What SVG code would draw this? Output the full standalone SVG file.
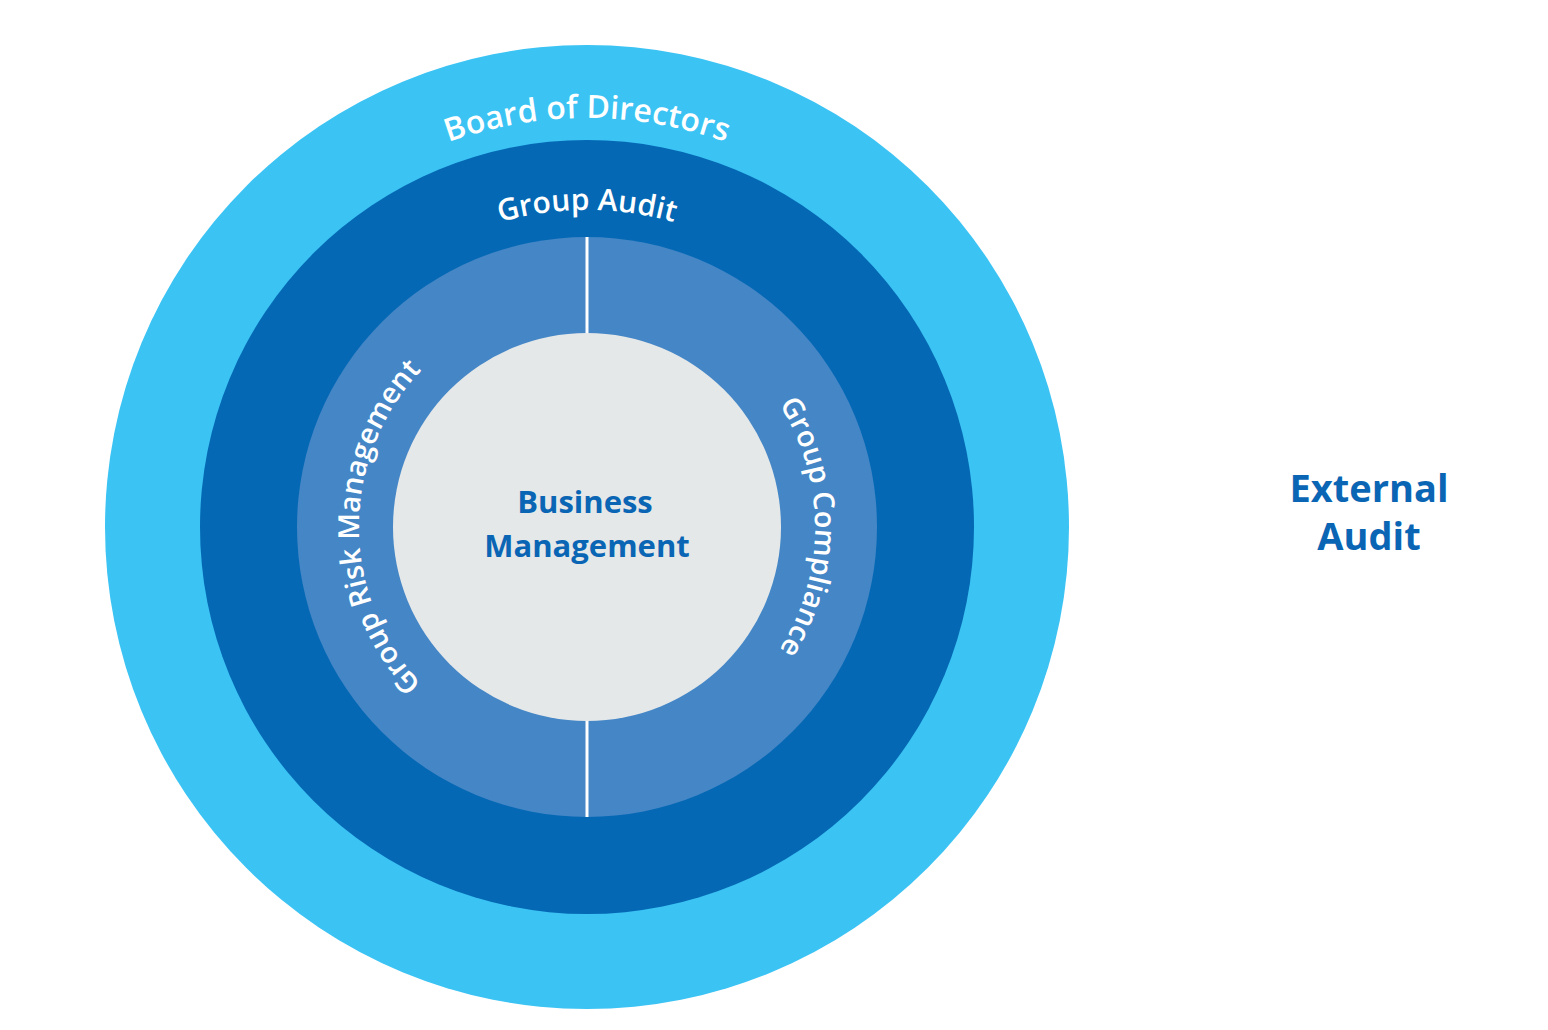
<svg xmlns="http://www.w3.org/2000/svg" width="1548" height="1030" viewBox="0 0 1548 1030">
<style>
.w{fill:#fff;font-family:"Open Sans","Liberation Sans",sans-serif;font-weight:600}
.b{fill:#0A66B4;font-family:"Open Sans","Liberation Sans",sans-serif;font-weight:700;text-anchor:middle}
</style>
<defs>
<path id="pb" d="M178 527 A409 409 0 0 1 996 527"/>
<path id="pa" d="M270 527 A317 317 0 0 1 904 527"/>
<path id="pl" d="M587 755 A228 228 0 0 1 587 299"/>
<path id="pr" d="M587 299 A228 228 0 0 1 587 755"/>
</defs>
<rect width="1548" height="1030" fill="#fff"/>
<g id="board"><circle cx="587" cy="527" r="482" fill="#3BC3F4"/>
<text class="w" font-size="32"><textPath href="#pb" startOffset="50%" text-anchor="middle">Board of Directors</textPath></text></g>
<g id="audit"><circle cx="587" cy="527" r="387" fill="#0468B4"/>
<text class="w" font-size="30"><textPath href="#pa" startOffset="50%" text-anchor="middle">Group Audit</textPath></text></g>
<g id="ring"><circle cx="587" cy="527" r="290" fill="#4486C6"/>
<text class="w" font-size="29"><textPath href="#pl" startOffset="50%" text-anchor="middle">Group Risk Management</textPath></text>
<text class="w" font-size="29"><textPath href="#pr" startOffset="50%" text-anchor="middle">Group Compliance</textPath></text></g>
<g id="connectors"><line x1="587" y1="237" x2="587" y2="334" stroke="#fff" stroke-width="3"/><line x1="587" y1="720" x2="587" y2="817" stroke="#fff" stroke-width="3"/></g>
<g id="business"><circle cx="587" cy="527" r="194" fill="#E5E8E9"/>
<text class="b" font-size="31" x="585" y="513">Business</text>
<text class="b" font-size="31" x="587" y="557">Management</text></g>
<g id="external"><text class="b" font-size="38" x="1369" y="502">External</text><text class="b" font-size="38" x="1369" y="550">Audit</text></g>
</svg>
